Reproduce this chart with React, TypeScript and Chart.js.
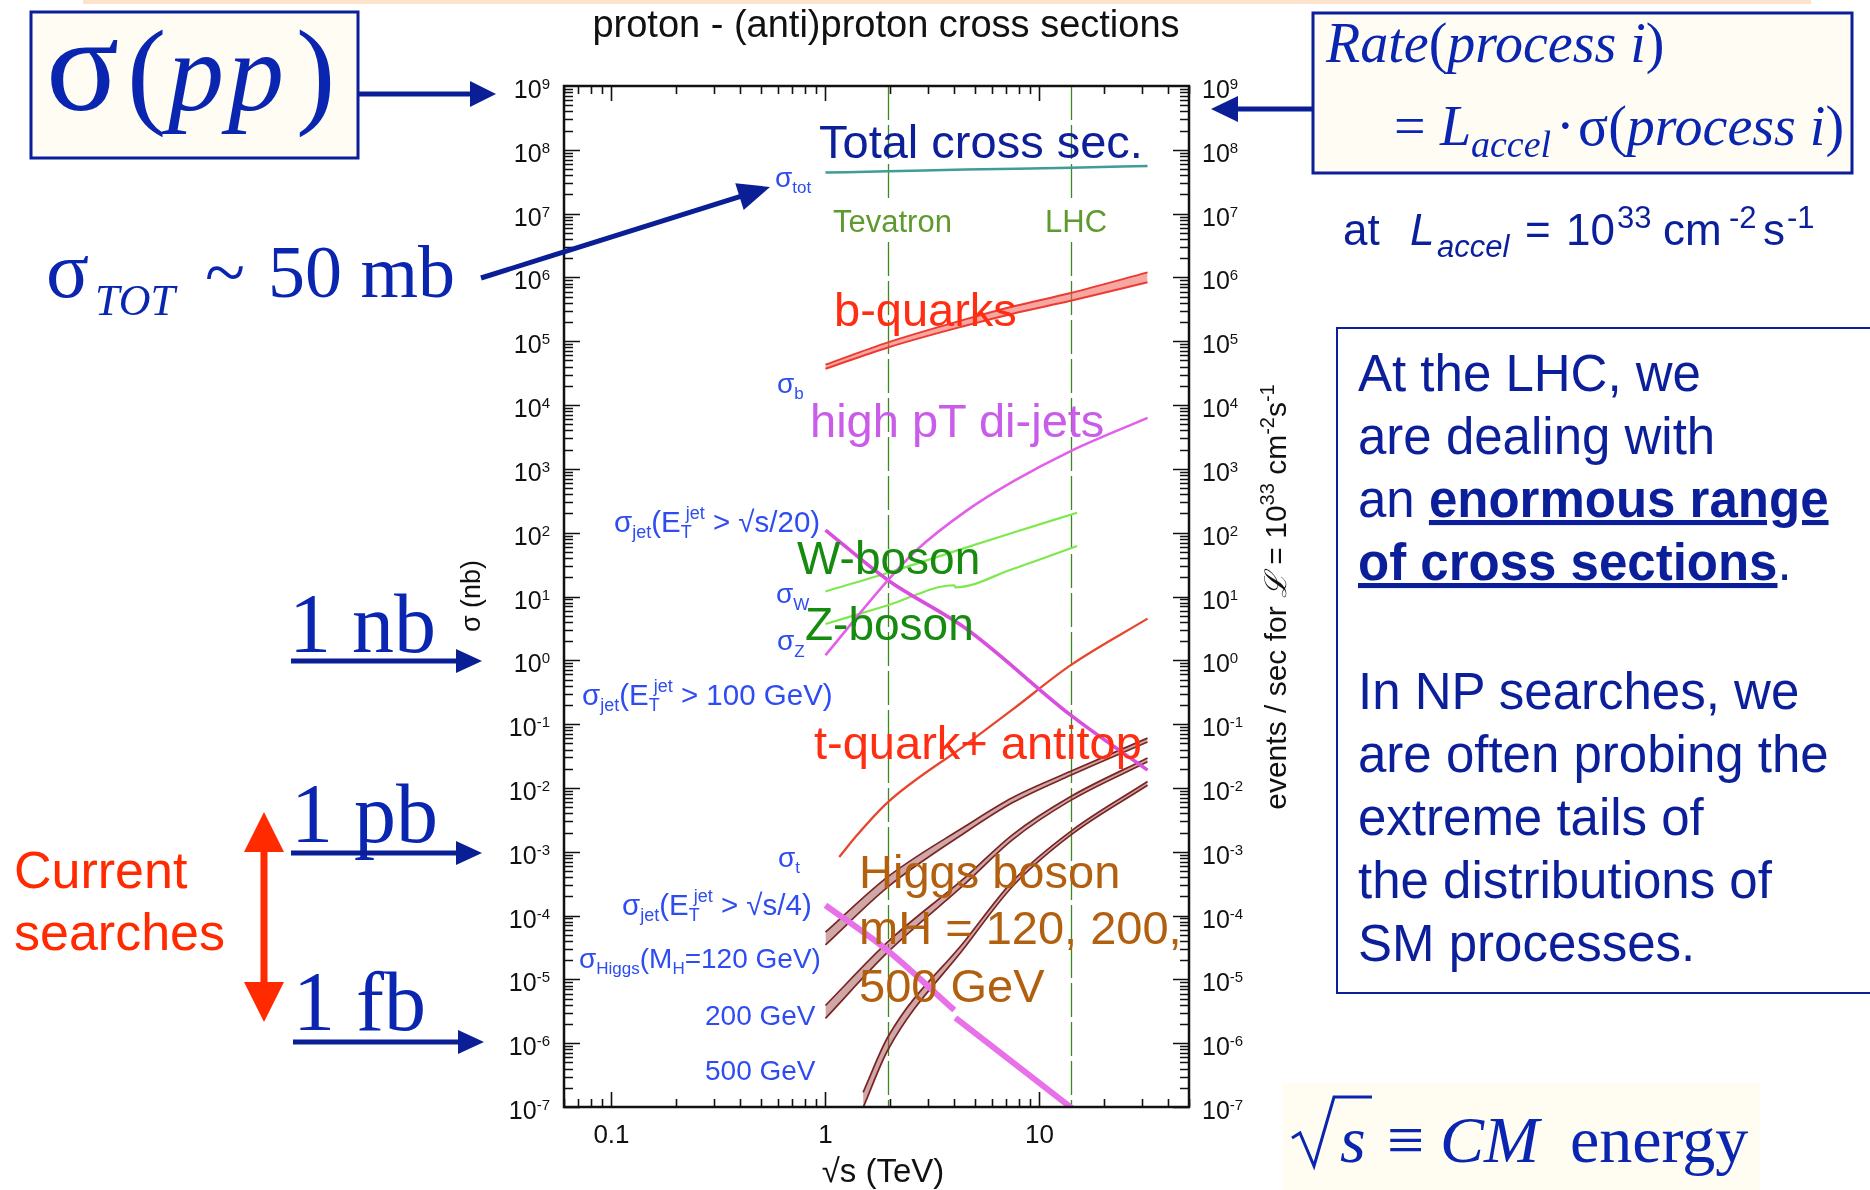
import React, { useEffect, useRef } from 'react';
import { Chart, registerables } from 'chart.js';

Chart.register(...registerables);

// ---------- data (x: sqrt(s) in TeV, y: sigma in nb) ----------
const X_MIN = 0.06;
const X_MAX = 50;
const Y_MIN = 1e-7;
const Y_MAX = 1e9;
const tevatronEnergy = 1.96;
const lhcEnergy = 14;
const xTickLabels = ['0.1', '1', '10'];
const xTickValues = [0.1, 1, 10];
const yDecades = [-7, -6, -5, -4, -3, -2, -1, 0, 1, 2, 3, 4, 5, 6, 7, 8, 9];

const totalX = [1, 1.96, 4.5, 14, 32];
const totalY = [4.4e7, 4.6e7, 4.9e7, 5.25e7, 5.6e7];

const bX = [1, 1.96, 4.5, 7.5, 14, 32];
const bHi = [4.3e4, 9.6e4, 2.2e5, 3.5e5, 5.7e5, 1.2e6];
const bLo = [3.7e4, 8.0e4, 1.75e5, 2.7e5, 4.3e5, 8.4e5];

const jet100X = [1, 1.96, 2.66, 4.5, 7.5, 14, 32];
const jet100Y = [1.2, 18, 53, 214, 630, 1900, 6300];

const jet20X = [1, 1.96, 4.5, 14, 32];
const jet20Y = [110, 18, 3.2, 0.138, 0.019];

const wX = [1, 1.96, 4, 7.5, 15];
const wY = [12, 23.5, 51, 100, 205];

const zX = [1, 1.96, 4, 4.05, 7.5, 15];
const zY = [3.7, 7.3, 15, 13.9, 27, 62];

const topX = [1.16, 1.4, 1.96, 4.5, 7.5, 14, 32];
const topY = [8.3e-4, 1.8e-3, 6e-3, 0.047, 0.17, 0.84, 4.5];

const jet4X = [1, 1.96, 4, 4.02, 4.05, 16];
const jet4Y = [1.45e-4, 2.8e-5, 3.3e-6, null, 2.5e-6, 7e-8];

const h120X = [1, 1.96, 4.5, 7.5, 14, 32];
const h120Hi = [5.5e-5, 4.07e-4, 2.51e-3, 7.08e-3, 0.0182, 0.0603];
const h120Lo = [3.47e-5, 2.82e-4, 2.0e-3, 5.89e-3, 0.0158, 0.0525];

const h200X = [1, 1.96, 4.5, 7.5, 14, 32];
const h200Hi = [3.9e-6, 3.9e-5, 3.98e-4, 1.86e-3, 7.33e-3, 0.0295];
const h200Lo = [2.45e-6, 2.69e-5, 3.16e-4, 1.55e-3, 6.38e-3, 0.0257];

const h500X = [1.5, 1.96, 4.5, 7.5, 14, 32];
const h500Hi = [1.7e-7, 1.26e-6, 4.07e-5, 3.47e-4, 2.09e-3, 0.0126];
const h500Lo = [9.8e-8, 7.9e-7, 3.24e-5, 2.88e-4, 1.82e-3, 0.011];

// ---------- styles ----------
const SANS = '"Liberation Sans", Arial, Helvetica, sans-serif';
const SERIF = '"Liberation Serif", "Times New Roman", Times, serif';
const NAVY = '#0c1f9a';
const MATH = '#0a26b0';
const LBLUE = '#2e4cf2';
const RED = '#ff2d12';
const HIGGS_LINE = '#7a2424';
const HIGGS_FILL = 'rgba(160,80,80,0.5)';

const pts = (xs: number[], ys: (number | null)[]) => xs.map((x, i) => ({ x, y: ys[i] }));

function line(xs: number[], ys: (number | null)[], color: string, width: number, fill: any = false, bg = 'transparent') {
  return {
    data: pts(xs, ys),
    borderColor: color,
    borderWidth: width,
    backgroundColor: bg,
    fill,
    pointRadius: 0,
    cubicInterpolationMode: 'monotone',
    spanGaps: false,
  };
}

const framePlugin = {
  id: 'frameDeco',
  beforeDatasetsDraw(chart: any) {
    const { ctx, chartArea: a, scales } = chart;
    const x = scales.x;
    ctx.save();
    ctx.strokeStyle = '#3d8b1f';
    ctx.lineWidth = 1.3;
    ctx.setLineDash([34, 5]);
    for (const e of [tevatronEnergy, lhcEnergy]) {
      const px = Math.round(x.getPixelForValue(e)) + 0.5;
      ctx.beginPath();
      ctx.moveTo(px, a.top);
      ctx.lineTo(px, a.bottom);
      ctx.stroke();
    }
    ctx.restore();
  },
  afterDraw(chart: any) {
    const { ctx, chartArea: a, scales } = chart;
    const x = scales.x;
    const y = scales.y;
    ctx.save();
    ctx.strokeStyle = '#111';
    ctx.lineWidth = 1.6;
    for (let k = -7; k <= 8; k++) {
      for (let m = 1; m <= 9; m++) {
        const v = m * Math.pow(10, k);
        if (v < Y_MIN || v > Y_MAX) continue;
        const py = Math.round(y.getPixelForValue(v)) + 0.5;
        const len = m === 1 ? 16 : 9;
        ctx.beginPath();
        ctx.moveTo(a.left, py);
        ctx.lineTo(a.left + len, py);
        ctx.moveTo(a.right, py);
        ctx.lineTo(a.right - len, py);
        ctx.stroke();
      }
    }
    for (let k = -2; k <= 1; k++) {
      for (let m = 1; m <= 9; m++) {
        const v = m * Math.pow(10, k);
        if (v < X_MIN || v > X_MAX) continue;
        const px = Math.round(x.getPixelForValue(v)) + 0.5;
        const len = m === 1 ? 15 : 8;
        ctx.beginPath();
        ctx.moveTo(px, a.bottom);
        ctx.lineTo(px, a.bottom - len);
        ctx.moveTo(px, a.top);
        ctx.lineTo(px, a.top + len);
        ctx.stroke();
      }
    }
    ctx.lineWidth = 2.5;
    ctx.strokeRect(a.left, a.top, a.right - a.left, a.bottom - a.top);

    const MAIN = `25px ${SANS}`;
    const SUP = `15px ${SANS}`;
    ctx.fillStyle = '#111';
    ctx.textBaseline = 'alphabetic';
    ctx.textAlign = 'left';
    for (const k of yDecades) {
      const py = y.getPixelForValue(Math.pow(10, k));
      const sup = String(k);
      ctx.font = MAIN;
      const mw = ctx.measureText('10').width;
      ctx.font = SUP;
      const sw = ctx.measureText(sup).width;
      const rEdge = a.left - 14;
      ctx.fillText(sup, rEdge - sw, py + 3);
      ctx.font = MAIN;
      ctx.fillText('10', rEdge - sw - mw, py + 12);
      const lx = a.right + 13;
      ctx.fillText('10', lx, py + 12);
      ctx.font = SUP;
      ctx.fillText(sup, lx + mw, py + 3);
    }
    ctx.font = `26px ${SANS}`;
    ctx.textAlign = 'center';
    xTickValues.forEach((v, i) => {
      ctx.fillText(xTickLabels[i], x.getPixelForValue(v), a.bottom + 36);
    });
    ctx.restore();
  },
};

function Arrow({ x1, y1, x2, y2, w, head, half, color }: any) {
  const dx = x2 - x1;
  const dy = y2 - y1;
  const L = Math.hypot(dx, dy);
  const ux = dx / L;
  const uy = dy / L;
  const bx = x2 - ux * head;
  const by = y2 - uy * head;
  const px = -uy;
  const py = ux;
  return (
    <g>
      <line x1={x1} y1={y1} x2={bx + ux * 2} y2={by + uy * 2} stroke={color} strokeWidth={w} />
      <polygon
        points={`${x2},${y2} ${bx + px * half},${by + py * half} ${bx - px * half},${by - py * half}`}
        fill={color}
      />
    </g>
  );
}

function JetLabel({ x, y, tail }: any) {
  return (
    <text x={x} y={y} fontSize={29.5}>
      σ<tspan fontSize={18} dy={6}>jet</tspan><tspan dy={-6}>(E</tspan>
      <tspan fontSize={18} dy={6}>T</tspan><tspan fontSize={18} dx={-6} dy={-19}>jet</tspan>
      <tspan dy={13}>{' ' + tail}</tspan>
    </text>
  );
}

function Overlay() {
  const arrowC = '#0a1e96';
  return (
    <svg
      width={1870}
      height={1190}
      style={{ position: 'absolute', left: 0, top: 0, pointerEvents: 'none', whiteSpace: 'pre' }}
    >
      <rect x={83} y={0} width={1728} height={4} fill="#fde3cc" />

      {/* sigma(pp) box */}
      <rect x={31} y={12} width={327} height={146} fill="#fffcf3" stroke={NAVY} strokeWidth={3} />
      <text y={110} fontFamily={SERIF} fill={MATH}>
        <tspan x={46} fontSize={136}>σ</tspan>
        <tspan x={127} y={112} fontSize={118}>(</tspan>
        <tspan x={168} y={110} fontSize={112} fontStyle="italic">p</tspan>
        <tspan x={228} fontSize={112} fontStyle="italic">p</tspan>
        <tspan x={296} y={112} fontSize={118}>)</tspan>
      </text>
      <Arrow x1={359} y1={94} x2={496} y2={94} w={5} head={26} half={13} color={arrowC} />

      {/* Rate box */}
      <rect x={1313} y={13} width={539} height={160} fill="#fffcf3" stroke={NAVY} strokeWidth={3} />
      <text x={1326} y={62} fontFamily={SERIF} fontSize={56} fill={MATH} fontStyle="italic">
        Rate<tspan fontStyle="normal">(</tspan>process  i<tspan fontStyle="normal">)</tspan>
      </text>
      <text y={145} fontFamily={SERIF} fontSize={56} fill={MATH}>
        <tspan x={1394}>=</tspan>
        <tspan x={1440} fontStyle="italic">L</tspan>
        <tspan x={1471} dy={12} fontSize={38} fontStyle="italic">accel</tspan>
        <tspan x={1556} dy={-12}>·</tspan>
        <tspan x={1578}>σ</tspan>
        <tspan>(</tspan>
        <tspan fontStyle="italic">process  i</tspan>
        <tspan>)</tspan>
      </text>
      <Arrow x1={1314} y1={109} x2={1211} y2={109} w={5} head={27} half={13} color={arrowC} />

      <text y={245} fontFamily={SANS} fontSize={44} fill={NAVY}>
        <tspan x={1343}>at</tspan>
        <tspan x={1410} fontStyle="italic">L</tspan>
        <tspan x={1437} dy={12} fontSize={31} fontStyle="italic">accel</tspan>
        <tspan x={1525} dy={-12}>=</tspan>
        <tspan x={1566}>10</tspan>
        <tspan x={1617} dy={-17} fontSize={31}>33</tspan>
        <tspan x={1663} dy={17}>cm</tspan>
        <tspan x={1729} dy={-17} fontSize={31}>-2</tspan>
        <tspan x={1763} dy={17}>s</tspan>
        <tspan x={1787} dy={-17} fontSize={31}>-1</tspan>
      </text>

      {/* sigma_TOT ~ 50 mb */}
      <text y={297} fontFamily={SERIF} fill={MATH}>
        <tspan x={46} fontSize={80}>σ</tspan>
        <tspan x={95} dy={18} fontSize={44} fontStyle="italic">TOT</tspan>
        <tspan x={205} dy={-18} fontSize={74}>~</tspan>
        <tspan x={268} fontSize={74}>50 mb</tspan>
      </text>
      <Arrow x1={481} y1={278} x2={770} y2={187} w={5} head={32} half={14} color={arrowC} />

      {/* 1 nb / 1 pb / 1 fb */}
      <text x={289} y={652} fontFamily={SERIF} fontSize={84} fill={MATH}>1 nb</text>
      <Arrow x1={291} y1={661} x2={482} y2={661} w={5} head={26} half={12} color={arrowC} />
      <text x={291} y={842} fontFamily={SERIF} fontSize={84} fill={MATH}>1 pb</text>
      <Arrow x1={291} y1={853} x2={482} y2={853} w={5} head={26} half={12} color={arrowC} />
      <text x={293} y={1030} fontFamily={SERIF} fontSize={84} fill={MATH}>1 fb</text>
      <Arrow x1={293} y1={1042} x2={484} y2={1042} w={5} head={26} half={12} color={arrowC} />

      {/* current searches */}
      <text fontFamily={SANS} fontSize={52} fill="#ff2a00">
        <tspan x={14} y={888}>Current</tspan>
        <tspan x={14} y={950}>searches</tspan>
      </text>
      <line x1={264} y1={848} x2={264} y2={986} stroke="#ff2a00" strokeWidth={7} />
      <polygon points="264,812 244,852 284,852" fill="#ff2a00" />
      <polygon points="264,1022 244,982 284,982" fill="#ff2a00" />

      {/* right text box */}
      <rect x={1337} y={328} width={600} height={665} fill="none" stroke={NAVY} strokeWidth={2} />
      <text fontFamily={SANS} fontSize={51} fill={NAVY}>
        <tspan x={1358} y={391}>At the LHC, we</tspan>
        <tspan x={1358} y={454}>are dealing with</tspan>
        <tspan x={1358} y={517}>an </tspan>
        <tspan fontWeight="bold" textDecoration="underline">enormous range</tspan>
        <tspan x={1358} y={580} fontWeight="bold" textDecoration="underline">of cross sections</tspan>
        <tspan>.</tspan>
        <tspan x={1358} y={709}>In NP searches, we</tspan>
        <tspan x={1358} y={772}>are often probing the</tspan>
        <tspan x={1358} y={835}>extreme tails of</tspan>
        <tspan x={1358} y={898}>the distributions of</tspan>
        <tspan x={1358} y={961}>SM processes.</tspan>
      </text>

      {/* sqrt(s) = CM energy */}
      <rect x={1283} y={1083} width={477} height={107} fill="#fffcf2" />
      <polyline
        points="1292,1138 1300,1133 1314,1166 1334,1097 1372,1097"
        fill="none"
        stroke={MATH}
        strokeWidth={3}
      />
      <text y={1162} fontFamily={SERIF} fontSize={66} fill={MATH}>
        <tspan x={1340} fontStyle="italic">s</tspan>
        <tspan x={1387}>≡</tspan>
        <tspan x={1440} fontStyle="italic">CM</tspan>
        <tspan x={1570}>energy</tspan>
      </text>

      {/* chart titles */}
      <text x={886} y={37} textAnchor="middle" fontFamily={SANS} fontSize={38} fill="#111">
        proton - (anti)proton cross sections
      </text>
      <text x={883} y={1182} textAnchor="middle" fontFamily={SANS} fontSize={33} fill="#111">
        √s (TeV)
      </text>
      <text transform="translate(480,596) rotate(-90)" textAnchor="middle" fontFamily={SANS} fontSize={27} fill="#111">
        σ (nb)
      </text>
      <text transform="translate(1286,597) rotate(-90)" textAnchor="middle" fontFamily={SANS} fontSize={30} fill="#111">
        events / sec for <tspan fontStyle="italic">ℒ</tspan> = 10<tspan dy={-12} fontSize={20}>33</tspan>
        <tspan dy={12}> cm</tspan><tspan dy={-12} fontSize={20}>-2</tspan><tspan dy={12}>s</tspan>
        <tspan dy={-12} fontSize={20}>-1</tspan>
      </text>

      {/* in-plot big labels */}
      <rect x={829} y={199} width={131} height={42} fill="#fff" />
      <rect x={1040} y={199} width={70} height={42} fill="#fff" />
      <text x={833} y={232} fontFamily={SANS} fontSize={31} fill="#5e9a2e">Tevatron</text>
      <text x={1045} y={232} fontFamily={SANS} fontSize={31} fill="#5e9a2e">LHC</text>
      <text x={819} y={158} fontFamily={SANS} fontSize={47} fill="#0d1f99">Total cross sec.</text>
      <text x={834} y={326} fontFamily={SANS} fontSize={47} fill={RED}>b-quarks</text>
      <text x={810} y={437} fontFamily={SANS} fontSize={47} fill="#c95ce8">high pT di-jets</text>
      <text x={797} y={574} fontFamily={SANS} fontSize={46} fill="#178a10">W-boson</text>
      <text x={805} y={640} fontFamily={SANS} fontSize={46} fill="#178a10">Z-boson</text>
      <text x={814} y={759} fontFamily={SANS} fontSize={47} fill={RED}>t-quark+ antitop</text>
      <text fontFamily={SANS} fontSize={47} fill="#b2600f">
        <tspan x={859} y={888}>Higgs boson</tspan>
        <tspan x={859} y={944}>mH = 120, 200,</tspan>
        <tspan x={859} y={1002}>500 GeV</tspan>
      </text>

      {/* in-plot sigma labels */}
      <g fontFamily={SANS} fill={LBLUE}>
        <text x={775} y={187} fontSize={28}>σ<tspan fontSize={17} dy={6}>tot</tspan></text>
        <text x={777} y={393} fontSize={28}>σ<tspan fontSize={17} dy={6}>b</tspan></text>
        <JetLabel x={614} y={532} tail="> √s/20)" />
        <text x={776} y={603} fontSize={28}>σ<tspan fontSize={17} dy={7}>W</tspan></text>
        <text x={777} y={650} fontSize={28}>σ<tspan fontSize={17} dy={7}>Z</tspan></text>
        <JetLabel x={582} y={705} tail="> 100 GeV)" />
        <text x={778} y={867} fontSize={28}>σ<tspan fontSize={17} dy={6}>t</tspan></text>
        <JetLabel x={622} y={915} tail="> √s/4)" />
        <text x={579} y={968} fontSize={28}>
          σ<tspan fontSize={17} dy={6}>Higgs</tspan><tspan dy={-6}>(M</tspan>
          <tspan fontSize={17} dy={6}>H</tspan><tspan dy={-6}>=120 GeV)</tspan>
        </text>
        <text x={705} y={1025} fontSize={28}>200 GeV</text>
        <text x={705} y={1080} fontSize={28}>500 GeV</text>
      </g>
    </svg>
  );
}

export default function App() {
  const ref = useRef<HTMLCanvasElement | null>(null);
  useEffect(() => {
    if (!ref.current) return;
    const datasets: any[] = [
      line(totalX, totalY, '#3f9c96', 2.5),
      line(bX, bLo, '#ee3a30', 2),
      line(bX, bHi, '#ee3a30', 2, '-1', 'rgba(240,95,85,0.55)'),
      line(jet100X, jet100Y, '#e35fe8', 2.6),
      line(jet20X, jet20Y, '#d94fdd', 3.6),
      line(wX, wY, '#7ee84e', 2.2),
      line(zX, zY, '#7ee84e', 2.2),
      line(topX, topY, '#e8452d', 2.3),
      line(jet4X, jet4Y, '#e870e8', 6),
      line(h120X, h120Lo, HIGGS_LINE, 1.7),
      line(h120X, h120Hi, HIGGS_LINE, 1.7, '-1', HIGGS_FILL),
      line(h200X, h200Lo, HIGGS_LINE, 1.7),
      line(h200X, h200Hi, HIGGS_LINE, 1.7, '-1', HIGGS_FILL),
      line(h500X, h500Lo, HIGGS_LINE, 1.7),
      line(h500X, h500Hi, HIGGS_LINE, 1.7, '-1', HIGGS_FILL),
    ];
    const chart = new Chart(ref.current, {
      type: 'line',
      data: { datasets },
      options: {
        animation: false,
        responsive: false,
        devicePixelRatio: 1,
        layout: { padding: { left: 564, right: 681, top: 86, bottom: 83 } },
        scales: {
          x: { type: 'logarithmic', min: X_MIN, max: X_MAX, display: false, bounds: 'data' },
          y: { type: 'logarithmic', min: Y_MIN, max: Y_MAX, display: false, bounds: 'data' },
        },
        plugins: {
          legend: { display: false },
          tooltip: { enabled: false },
          title: { display: false },
        },
        elements: { point: { radius: 0 } },
      } as any,
      plugins: [framePlugin],
    });
    return () => chart.destroy();
  }, []);

  return (
    <div
      style={{
        position: 'absolute',
        left: 0,
        top: 0,
        width: 1870,
        height: 1190,
        background: '#fff',
        overflow: 'hidden',
      }}
    >
      <canvas ref={ref} width={1870} height={1190} style={{ position: 'absolute', left: 0, top: 0 }} />
      <Overlay />
    </div>
  );
}
